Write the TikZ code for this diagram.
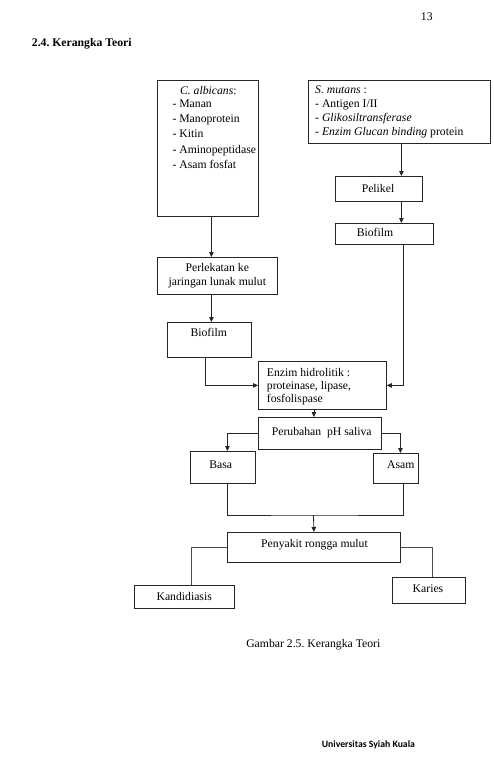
\documentclass[tikz,border=0pt]{standalone}
\usepackage{fontspec}
\setmainfont{Liberation Serif}
\newfontfamily\footfont{Carlito}
\usetikzlibrary{arrows.meta}
\frenchspacing
\begin{document}
\begin{tikzpicture}[x=1pt,y=-1pt,
  box/.style={draw=black!85, line width=0.8pt, inner sep=0pt, anchor=north west},
  txt/.style={inner sep=0pt, anchor=base, font=\fontsize{11.7}{14}\selectfont},
  ltxt/.style={txt, anchor=base west, align=left},
  conn/.style={draw=black!85, line width=0.8pt},
  arr/.style={conn, -{Triangle[length=5pt,width=4.5pt]}}]
\useasboundingbox[fill=white] (0,0) rectangle (494,771);

% page header
\node[txt] (pagenum) at (426.8,20.5) {13};
\node[txt, anchor=base west, font=\fontsize{11.7}{14}\selectfont\bfseries] (heading) at (31.7,46.1) {2.4. Kerangka Teori};

% boxes
\node[box, minimum width=101pt, minimum height=136pt] (ca) at (157,80) {};
\node[box, minimum width=182pt, minimum height=63pt] (sm) at (308,80) {};
\node[box, minimum width=87pt, minimum height=25pt] (pel) at (335,176) {};
\node[box, minimum width=98pt, minimum height=21pt] (bio2) at (335,223) {};
\node[box, minimum width=120pt, minimum height=37pt] (perl) at (157,257) {};
\node[box, minimum width=84pt, minimum height=35pt] (bio1) at (167,322) {};
\node[box, minimum width=128pt, minimum height=48pt] (enz) at (258,361) {};
\node[box, minimum width=123pt, minimum height=32pt] (perub) at (258,417) {};
\node[box, minimum width=65pt, minimum height=32pt] (basa) at (190,451) {};
\node[box, minimum width=45pt, minimum height=30pt] (asam) at (373,453) {};
\node[box, minimum width=173pt, minimum height=30pt] (peny) at (227,532) {};
\node[box, minimum width=100pt, minimum height=23pt] (kand) at (134,585) {};
\node[box, minimum width=73pt, minimum height=26pt] (kar) at (392,577) {};

% texts (multi-line nodes: base anchor = baseline of last line)
\node[txt] (catitle) at (208.3,94.5) {\textit{C. albicans}:};
\node[ltxt, font=\fontsize{11.7}{15.4}\selectfont] (calist) at (172.3,168.7)
  {- Manan\\- Manoprotein\\- Kitin\\- Aminopeptidase\\- Asam fosfat};
\node[ltxt, font=\fontsize{11.7}{13.9}\selectfont] (smlist) at (315,135.5)
  {\textit{S. mutans} :\\- Antigen I/II\\- \textit{Glikosiltransferase}\\- \textit{Enzim Glucan binding} protein};
\node[txt] (peltext) at (378,192.3) {Pelikel};
\node[txt] (bio2text) at (375,236.8) {Biofilm};
\node[txt, align=center] (perltext) at (217.3,285.5) {Perlekatan ke\\jaringan lunak mulut};
\node[txt] (bio1text) at (208.7,336.5) {Biofilm};
\node[ltxt, font=\fontsize{11.7}{13.4}\selectfont] (enztext) at (266.7,402.9)
  {Enzim hidrolitik :\\proteinase, lipase,\\fosfolispase};
\node[txt] (perubtext) at (321.7,435.5) {Perubahan~ pH saliva};
\node[txt] (basatext) at (220.8,468.1) {Basa};
\node[txt] (asamtext) at (400.8,468.1) {Asam};
\node[txt] (penytext) at (314.5,547.8) {Penyakit rongga mulut};
\node[txt] (kandtext) at (184.2,600.5) {Kandidiasis};
\node[txt] (kartext) at (428,592.8) {Karies};
\node[txt] (caption) at (313.3,647.8) {Gambar 2.5. Kerangka Teori};
\node[inner sep=0pt, anchor=base west, font=\footfont\bfseries\fontsize{9.7}{11}\selectfont] (footer) at (321.7,747.5) {Universitas Syiah Kuala};

% connectors
\draw[arr] ([xshift=3.5]ca.south) -- ([xshift=-6]perl.north);
\draw[arr] ([xshift=-6]perl.south) -- ([xshift=2]bio1.north);
\draw[arr] ([xshift=-4.5]bio1.south) |- (enz.west);
\draw[arr] ([xshift=2]sm.south) -- ([xshift=22.5]pel.north);
\draw[arr] ([xshift=22.5]pel.south) -- ([xshift=17]bio2.north);
\draw[arr] ([xshift=19]bio2.south) |- (enz.east);
\draw[arr] ([xshift=-8.5]enz.south) -- ([xshift=-6]perub.north);
\draw[arr] (perub.west) -| ([xshift=4.5]basa.north);
\draw[arr] (perub.east) -| ([xshift=4.5]asam.north);
\coordinate (jn) at (313.5,515);
\draw[conn] ([xshift=4.5]basa.south) |- (jn) -| ([xshift=7.5]asam.south);
\draw[arr] (jn) -- (peny.north);
\draw[conn, draw=black!70] (peny.west) -| ([xshift=7]kand.north);
\draw[conn, draw=black!70] (peny.east) -| ([xshift=3.5]kar.north);
\end{tikzpicture}
\end{document}
